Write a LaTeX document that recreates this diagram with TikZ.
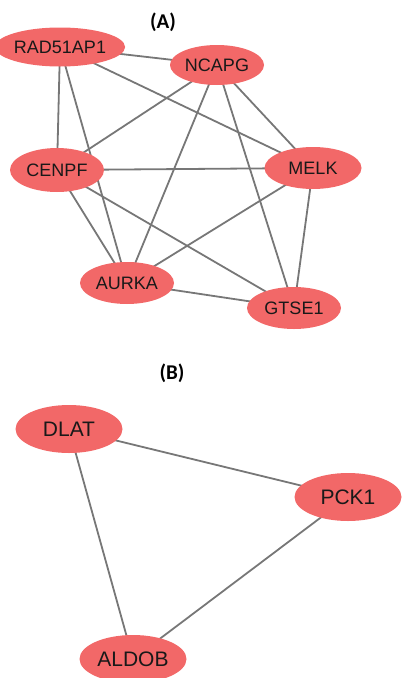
\documentclass[tikz,border=0pt]{standalone}
\usepackage{fontspec}
\setmainfont{Liberation Sans}
\newfontfamily\labfont{Carlito}
\usetikzlibrary{shapes.geometric}
\definecolor{nodefill}{HTML}{F26868}
\definecolor{edgegray}{HTML}{777777}
\tikzset{
  gnode/.style={ellipse, fill=nodefill, inner sep=0pt, minimum width=94pt, minimum height=40pt, font=\fontsize{18}{21}\selectfont, text=black!90},
  bnode/.style={ellipse, fill=nodefill, inner sep=0pt, minimum width=107pt, minimum height=48pt, font=\fontsize{21}{25}\selectfont, text=black!90},
  edge/.style={draw=edgegray, line width=1.8pt},
  panel/.style={font=\labfont\bfseries\fontsize{21}{24}\selectfont}
}
\begin{document}
\begin{tikzpicture}[x=1pt,y=1pt]
\useasboundingbox (0,0) rectangle (403,-678);
% Panel A
\node[panel] (labA) at (163,-22) {(A)};
\coordinate (pRAD) at (60,-47);
\coordinate (pNCA) at (217,-65);
\coordinate (pCEN) at (57,-170);
\coordinate (pMEL) at (313,-168);
\coordinate (pAUR) at (127,-283);
\coordinate (pGTS) at (294,-308);
\draw[edge] (pRAD) -- (pNCA);
\draw[edge] (pRAD) -- (pMEL);
\draw[edge] (pRAD) -- (pCEN);
\draw[edge] (pRAD) -- (pAUR);
\draw[edge] (pNCA) -- (pCEN);
\draw[edge] (pNCA) -- (pAUR);
\draw[edge] (pNCA) -- (pGTS);
\draw[edge] (pNCA) -- (pMEL);
\draw[edge] (pCEN) -- (pMEL);
\draw[edge] (pCEN) -- (pAUR);
\draw[edge] (pCEN) -- (pGTS);
\draw[edge] (pMEL) -- (pAUR);
\draw[edge] (pMEL) -- (pGTS);
\draw[edge] (pAUR) -- (pGTS);
\node[gnode, minimum width=96pt, minimum height=39pt] (RAD) at (pRAD) {RAD51AP1};
\node[gnode] (NCA) at (pNCA) {NCAPG};
\node[gnode, minimum height=44pt] (CEN) at (pCEN) {CENPF};
\node[gnode, minimum width=97pt, minimum height=42pt] (MEL) at (pMEL) {MELK};
\node[gnode, minimum height=42pt] (AUR) at (pAUR) {AURKA};
\node[gnode, minimum height=42pt] (GTS) at (pGTS) {GTSE1};
% Panel B
\node[panel] (labB) at (172,-373) {(B)};
\coordinate (pDLA) at (69,-429);
\coordinate (pPCK) at (348,-497);
\coordinate (pALD) at (133,-659);
\draw[edge] (pDLA) -- (pPCK);
\draw[edge] (pDLA) -- (pALD);
\draw[edge] (pPCK) -- (pALD);
\node[bnode] (DLA) at (pDLA) {DLAT};
\node[bnode] (PCK) at (pPCK) {PCK1};
\node[bnode] (ALD) at (pALD) {ALDOB};
\end{tikzpicture}
\end{document}
